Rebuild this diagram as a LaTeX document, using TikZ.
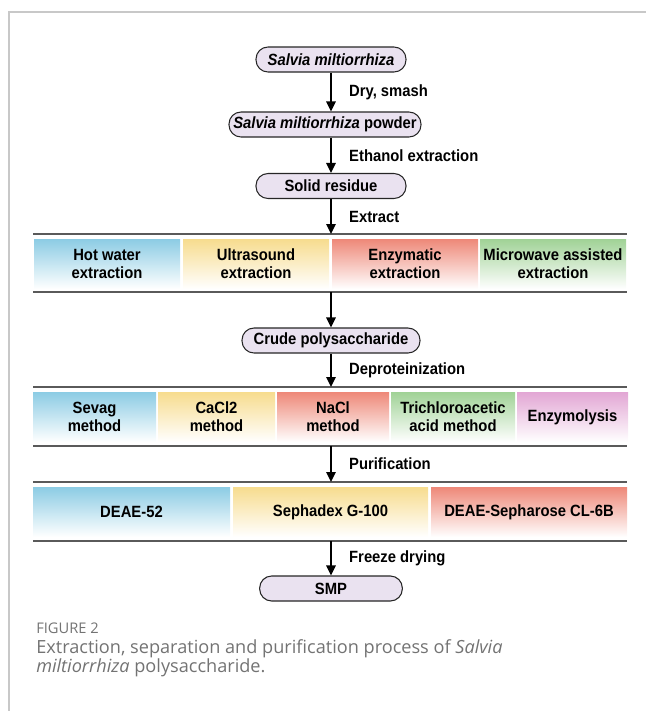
\documentclass[tikz,border=0pt]{standalone}
\usepackage{fontspec}
\setmainfont{Liberation Sans}[FakeStretch=0.91]
\newfontfamily\capfont{Open Sans}
\usetikzlibrary{arrows.meta}
\definecolor{stagefill}{RGB}{234,226,240}
\definecolor{bandline}{RGB}{90,90,90}
\definecolor{cblue}{RGB}{140,204,228}
\definecolor{cyellow}{RGB}{247,220,142}
\definecolor{cred}{RGB}{238,136,120}
\definecolor{cgreen}{RGB}{160,210,150}
\definecolor{cpink}{RGB}{226,166,212}
\definecolor{capgray}{RGB}{115,115,115}
\definecolor{framegray}{RGB}{200,200,200}
\tikzset{
  stage/.style={draw=black!85, line width=0.8pt, fill=stagefill, rounded corners=9pt,
    minimum height=18.75pt, inner sep=0pt, font=\fontsize{12.2}{13.5}\selectfont\bfseries},
  method/.style={inner sep=0pt, outer sep=0pt, minimum height=37.5pt, align=center,
    top color=#1, bottom color=white, font=\fontsize{12.2}{13.5}\selectfont\bfseries},
  flow/.style={-{Triangle[length=7.5pt,width=7pt]}, line width=1.3pt},
  bar/.style={draw=bandline, line width=1.5pt},
  steplabel/.style={right=13pt, inner sep=0pt, font=\fontsize{12.2}{13.5}\selectfont\bfseries},
}
\begin{document}
\begin{tikzpicture}[x=0.75pt,y=-0.75pt]
\useasboundingbox (0,0) rectangle (646,711);
\draw[framegray, line width=0.9pt] (9,711) -- (9,12) -- (646,12);
% stages
\node[stage, minimum width=112.5pt] (herb) at (331,59.5) {\textit{Salvia miltiorrhiza}};
\node[stage, minimum width=144pt] (powder) at (325,124.5) {\textit{Salvia miltiorrhiza} powder};
\node[stage, minimum width=112.5pt] (residue) at (331,186) {Solid residue};
\node[stage, minimum width=133.5pt] (crude) at (331,340.5) {Crude polysaccharide};
\node[stage, minimum width=107pt] (smp) at (331,588.5) {SMP};
% band lines
\foreach \y/\n in {234/t1,292/b1,387/t2,446/b2,482/t3,541/b3} {
\draw[bar] (33,\y) -- (627,\y);
\coordinate (\n) at (331,\y);
}
% extraction methods
\foreach \x/\w/\c/\t [count=\i] in {107/146/cblue/{Hot water\\extraction},
  256/146/cyellow/{Ultrasound\\extraction}, 405/146/cred/{Enzymatic\\extraction},
  553/146/cgreen/{Microwave assisted\\extraction}} {
\node[method=\c, minimum width=\w*0.75pt] (ex\i) at (\x,264) {\t};
}
% deproteinization methods
\foreach \x/\w/\c/\t [count=\i] in {94.5/123/cblue/{Sevag\\method},
  216.5/117/cyellow/{CaCl2\\method}, 333/112/cred/{NaCl\\method},
  453/124/cgreen/{Trichloroacetic\\acid method}, 572.5/111/cpink/{Enzymolysis}} {
\node[method=\c, minimum width=\w*0.75pt] (dp\i) at (\x,417) {\t};
}
% purification columns
\foreach \x/\w/\c/\t [count=\i] in {131.5/197/cblue/{DEAE-52},
  330.5/195/cyellow/{Sephadex G-100}, 529/196/cred/{DEAE-Sepharose CL-6B}} {
\node[method=\c, minimum width=\w*0.75pt] (pu\i) at (\x,512) {\t};
}
% arrows
\draw[flow] (herb) -- (herb |- powder.north) node[midway, steplabel] {Dry, smash};
\draw[flow] (powder.south -| herb) -- (residue) node[midway, steplabel] {Ethanol extraction};
\draw[flow] (residue) -- (t1) node[midway, steplabel] {Extract};
\draw[flow] (b1) -- (crude);
\draw[flow] (crude) -- (t2) node[midway, steplabel] {Deproteinization};
\draw[flow] (b2) -- (t3) node[midway, steplabel] {Purification};
\draw[flow] (b3) -- (smp) node[midway, steplabel] {Freeze drying};
% caption
\node[anchor=west, inner sep=0pt, text=capgray, font=\capfont\fontsize{11}{12}\selectfont] (figno) at (36,628) {FIGURE 2};
\node[anchor=north west, inner sep=0pt, align=left, text=capgray,
  font=\capfont\fontsize{13.6}{14.6}\selectfont] (caption) at (36,639)
  {Extraction, separation and purification process of \textit{Salvia}\\\textit{miltiorrhiza} polysaccharide.};
\end{tikzpicture}
\end{document}
